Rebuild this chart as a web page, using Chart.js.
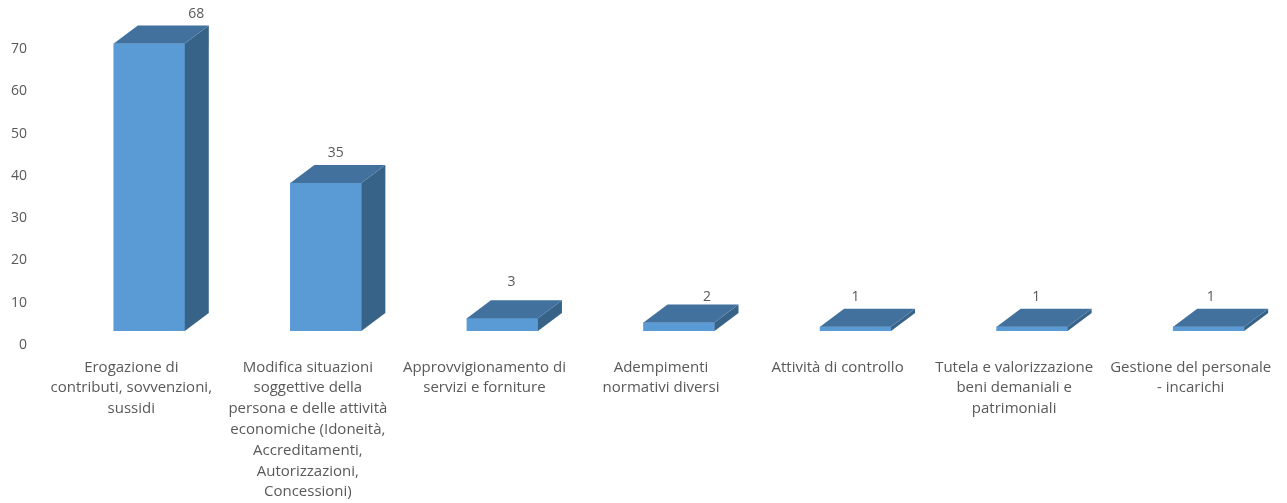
<!DOCTYPE html>
<html>
<head>
<meta charset="utf-8">
<script src="https://cdn.jsdelivr.net/npm/chart.js@4/dist/chart.umd.min.js"></script>
<style>
  html, body { margin: 0; padding: 0; background: #fff; overflow: hidden; width: 1287px; height: 503px; }
  #chartWrapper { width: 1297px; height: 503px; }
  #chart { display: block; }
</style>
</head>
<body>
<div id="chartWrapper"><canvas id="chart" width="1297" height="503"></canvas></div>
<script>
'use strict';

const categories = [
    ['Erogazione di', 'contributi, sovvenzioni,', 'sussidi'],
    ['Modifica situazioni', 'soggettive della', 'persona e delle attività', 'economiche (Idoneità,', 'Accreditamenti,', 'Autorizzazioni,', 'Concessioni)'],
    ['Approvvigionamento di', 'servizi e forniture'],
    ['Adempimenti', 'normativi diversi'],
    ['Attività di controllo'],
    ['Tutela e valorizzazione', 'beni demaniali e', 'patrimoniali'],
    ['Gestione del personale', '- incarichi'],
];
const values = [68, 35, 3, 2, 1, 1, 1];
const yTicks = [0, 10, 20, 30, 40, 50, 60, 70];

// Hand placement of the value labels, as in the original (dx, dy from the back top edge centre)
const labelShiftX = [47, 10, 9, 28, 0, 4, 2];
const labelShiftY = [-11, -12, -18, -8, -12, -12, -12];

const depthX = 24;
const depthY = 18;
const textColor = '#595959';
const fontFamily = '"Open Sans", sans-serif';

// Draws the side and top faces and the value labels from the bar elements
const bar3d = {
    id: 'bar3d',
    afterDatasetsDraw(chart) {
        const ctx = chart.ctx;
        chart.getDatasetMeta(0).data.forEach((bar, i) => {
            const left = bar.x - bar.width / 2;
            const right = bar.x + bar.width / 2;

            ctx.fillStyle = '#386388';
            ctx.beginPath();
            ctx.moveTo(right, bar.y);
            ctx.lineTo(right + depthX, bar.y - depthY);
            ctx.lineTo(right + depthX, bar.base - depthY);
            ctx.lineTo(right, bar.base);
            ctx.closePath();
            ctx.fill();

            ctx.fillStyle = '#41719C';
            ctx.beginPath();
            ctx.moveTo(left, bar.y);
            ctx.lineTo(left + depthX, bar.y - depthY);
            ctx.lineTo(right + depthX, bar.y - depthY);
            ctx.lineTo(right, bar.y);
            ctx.closePath();
            ctx.fill();

            ctx.fillStyle = textColor;
            ctx.font = '14px ' + fontFamily;
            ctx.textAlign = 'center';
            ctx.textBaseline = 'middle';
            ctx.fillText(values[i], bar.x + labelShiftX[i], bar.y - depthY + labelShiftY[i]);
        });
    },
};

new Chart(document.getElementById('chart'), {
    type: 'bar',
    data: {
        labels: categories,
        datasets: [
            {
                data: values,
                backgroundColor: '#5B9BD5',
                barThickness: 71,
            },
        ],
    },
    options: {
        responsive: false,
        animation: false,
        layout: { padding: { top: 35 } },
        plugins: {
            legend: { display: false },
            tooltip: { enabled: false },
        },
        scales: {
            x: {
                grid: { display: false, drawTicks: false },
                border: { display: false },
                afterFit(scale) {
                    scale.height = 172;
                    scale.paddingLeft = 0;
                    scale.paddingRight = 0;
                },
                ticks: {
                    autoSkip: false,
                    maxRotation: 0,
                    padding: 26,
                    labelOffset: -18,
                    color: textColor,
                    font: { family: fontFamily, size: 15, lineHeight: 1.387 },
                },
            },
            y: {
                min: 0,
                max: 70,
                afterFit(scale) {
                    scale.width = 61;
                    scale.paddingTop = 0;
                    scale.paddingBottom = 0;
                },
                afterBuildTicks(scale) {
                    scale.ticks = yTicks.map((value) => ({ value }));
                },
                grid: { display: false, drawTicks: false },
                border: { display: false },
                ticks: {
                    padding: 34,
                    labelOffset: 14,
                    color: textColor,
                    font: { family: fontFamily, size: 14 },
                },
            },
        },
    },
    plugins: [bar3d],
});
</script>
</body>
</html>
